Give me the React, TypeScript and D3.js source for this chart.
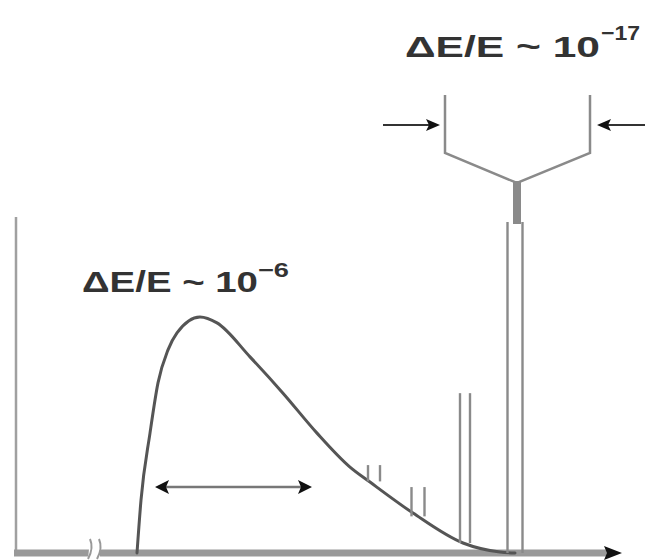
import React from "react";
import * as d3 from "d3";

// Broad spectrum: energy (arb. units) vs. intensity (arb. units)
const curveEnergy = [121, 125, 134, 142, 152, 161, 184, 201, 234, 267, 301, 334, 354, 397, 447, 484, 499];
const curveIntensity = [0, 15.9, 36.0, 51.1, 61.0, 66.1, 70.9, 69.1, 58.9, 48.0, 36.0, 25.8, 21.3, 12.0, 3.0, 0.3, 0];

// Narrow lines, each drawn as a pair of thin strokes
const lineEnergy = [358, 402, 449, 499];
const lineHalfWidth = [6, 6.5, 5, 7.5];
const lineBase = [21.5, 11.0, 3.0, 0];
const lineTop = [26.4, 19.8, 48.0, 99.4];

const W = 645;
const H = 560;

const x = d3.scaleLinear().domain([0, 600]).range([16, 616]);
const y = d3.scaleLinear().domain([0, 100]).range([553, 220]);

const GRAY = "#8a8a8a";
const DARK = "#333";
const FONT = "'Liberation Sans', Arial, sans-serif";

function arrowHead(tipX: number, tipY: number, dir: number, len = 13, half = 6) {
  const bx = tipX - dir * len;
  return `M${tipX},${tipY}L${bx},${tipY - half}L${bx + dir * 3},${tipY}L${bx},${tipY + half}Z`;
}

export default function App() {
  const pts = curveEnergy.map((e, i) => [x(e), y(curveIntensity[i])] as [number, number]);
  const path = d3.line().curve(d3.curveMonotoneX)(pts) || "";

  // bracket above the tallest line
  const jx = x(lineEnergy[3]) + 2;
  const bracketL = 445;
  const bracketR = 590;
  const bracketTop = 95;
  const bracketBot = 153;
  const junctionY = 183;

  return (
    <svg width={W} height={H} style={{ display: "block", position: "absolute", left: 0, top: 0 }}>
      <rect width={W} height={H} fill="#fff" />

      {/* axes */}
      <line x1={16} y1={217} x2={16} y2={553} stroke="#a0a0a0" strokeWidth={2.5} />
      <line x1={14} y1={553} x2={608} y2={553} stroke="#999" strokeWidth={7} />
      <path d={arrowHead(622, 553, 1, 18, 7)} fill="#111" />

      {/* axis break */}
      <path d="M90,539 L100,539 L100,559 L88,559 Z" fill="#fff" />
      <path d="M90,539 Q94,548 88,559" fill="none" stroke="#999" strokeWidth={2} />
      <path d="M99,539 Q103,548 97,559" fill="none" stroke="#999" strokeWidth={2} />

      {/* broad spectrum */}
      <path d={path} fill="none" stroke="#555" strokeWidth={3} strokeLinecap="round" />

      {/* narrow lines */}
      {lineEnergy.map((e, i) => (
        <g key={i} stroke={GRAY} strokeWidth={2.4}>
          <line x1={x(e) - lineHalfWidth[i]} x2={x(e) - lineHalfWidth[i]} y1={y(lineBase[i])} y2={y(lineTop[i])} />
          <line x1={x(e) + lineHalfWidth[i]} x2={x(e) + lineHalfWidth[i]} y1={y(lineBase[i])} y2={y(lineTop[i])} />
        </g>
      ))}

      {/* width arrow under the broad peak */}
      <line x1={160} y1={487} x2={306} y2={487} stroke="#777" strokeWidth={2.5} />
      <path d={arrowHead(155, 487, -1, 14, 7)} fill="#111" />
      <path d={arrowHead(312, 487, 1, 14, 7)} fill="#111" />

      {/* bracket */}
      <path
        d={`M${bracketL},${bracketTop}L${bracketL},${bracketBot}L${jx},${junctionY}L${bracketR},${bracketBot}L${bracketR},${bracketTop}`}
        fill="none"
        stroke={GRAY}
        strokeWidth={2.5}
      />
      <line x1={jx} y1={junctionY - 2} x2={jx} y2={y(lineTop[3]) + 2} stroke={GRAY} strokeWidth={8} />
      <line x1={383} y1={125} x2={430} y2={125} stroke="#333" strokeWidth={2} />
      <path d={arrowHead(440, 125, 1, 14, 6)} fill="#111" />
      <line x1={607} y1={125} x2={645} y2={125} stroke="#333" strokeWidth={2} />
      <path d={arrowHead(597, 125, -1, 14, 6)} fill="#111" />

      {/* labels */}
      <g fontFamily={FONT} fontWeight={700} fill={DARK}>
        <text x={405} y={57} fontSize={30} textLength={195} lengthAdjust="spacingAndGlyphs">ΔE/E ~ 10</text>
        <text x={601} y={40} fontSize={21} textLength={39} lengthAdjust="spacingAndGlyphs">−17</text>
        <text x={82} y={292} fontSize={29} textLength={176} lengthAdjust="spacingAndGlyphs">ΔE/E ~ 10</text>
        <text x={258} y={277} fontSize={20} textLength={31} lengthAdjust="spacingAndGlyphs">−6</text>
      </g>
    </svg>
  );
}
